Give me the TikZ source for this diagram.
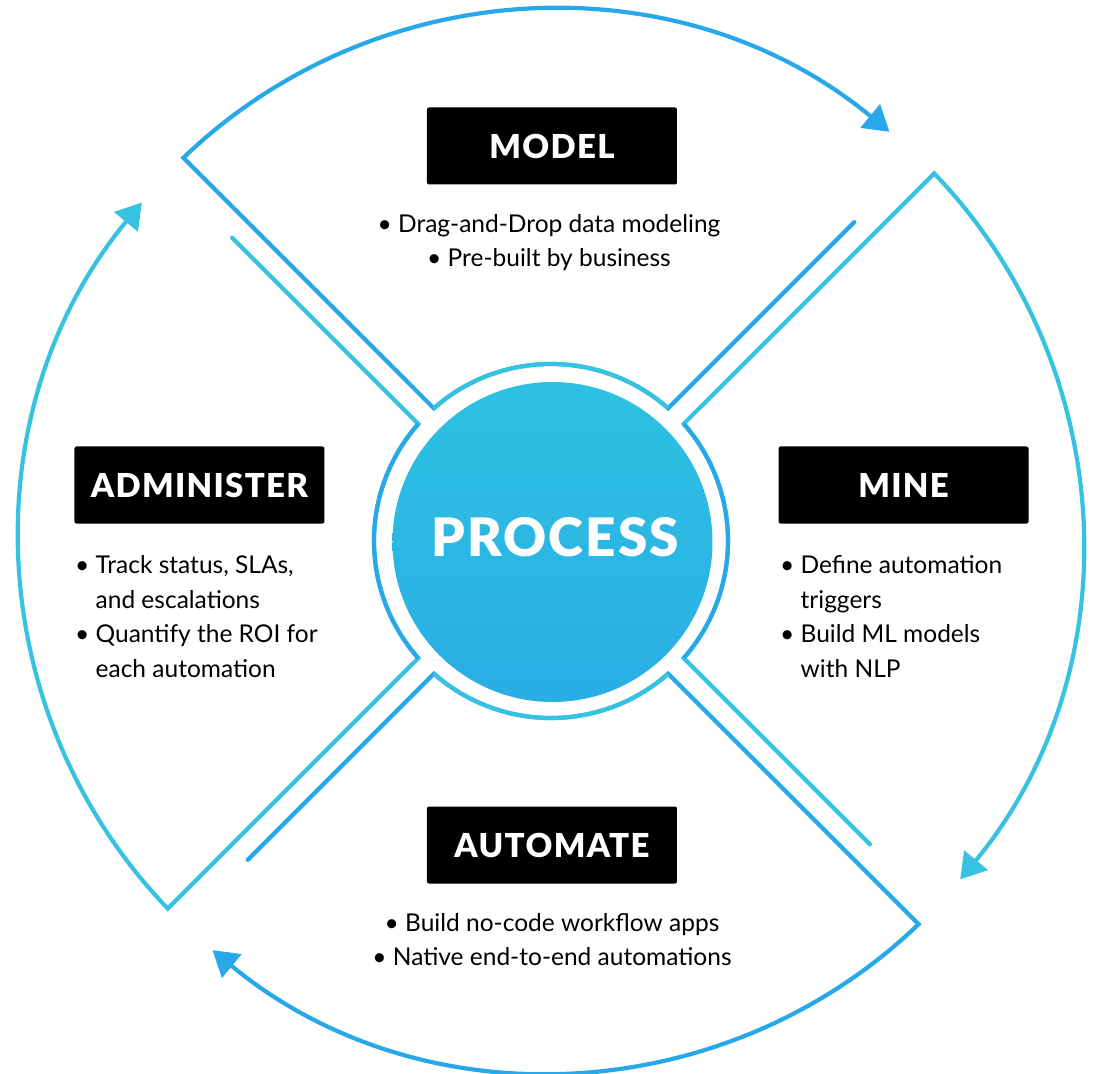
\documentclass[tikz,border=0pt]{standalone}
\usepackage{fontspec}
\setmainfont{Lato}
\newfontfamily\headfont{Lato Black}[LetterSpace=4]
\usetikzlibrary{arrows.meta}

\definecolor{procblue}{HTML}{28A8E8}
\definecolor{proccyan}{HTML}{37C2E2}
\definecolor{hubtop}{HTML}{2DC1E1}
\definecolor{hubbottom}{HTML}{2AAEE5}

\tikzset{
	ring/.style={line width=4.2pt, line join=miter},
	tagbox/.style={fill=black, rounded corners=2pt, minimum width=250pt, minimum height=77pt, text=white, font=\headfont\fontsize{33}{33}\selectfont},
	bullets/.style={font=\fontsize{24.5}{34.5}\selectfont, inner sep=0pt},
}

\begin{document}
\begin{tikzpicture}[x=1pt,y=1pt]
	\useasboundingbox (-551,-533) rectangle (542,541);
	
	% four arrow pieces, turned a quarter each
	\foreach \k/\main/\alt in {0/procblue/proccyan, 1/proccyan/procblue, 2/procblue/proccyan, 3/proccyan/procblue}{
		\begin{scope}[rotate=-90*\k]
			\coordinate (free\k) at (303.3,318.9);
			\coordinate (innerR\k) at (117.1,132.7);
			\coordinate (innerL\k) at (-117.1,132.7);
			\coordinate (corner\k) at (-367.6,383.2);
			\draw[ring,\main,line cap=round,-{Triangle[length=25pt,width=30pt]}] (free\k) -- (innerR\k)
				arc[start angle=48.56, end angle=131.44, radius=177] -- (corner\k)
				arc[start angle=133.81, end angle=50.4, radius=531];
			\draw[ring,\alt] (innerR\k) arc[start angle=48.56, end angle=131.44, radius=177];
		\end{scope}
	}
	
	\node (hub) [circle, minimum size=320pt, inner sep=0pt, top color=hubtop, bottom color=hubbottom] at (1.5,-1) {};
	\node (process) [text=white, font=\headfont\fontsize{53}{53}\selectfont] at (4,4) {PROCESS};
	
	\node (model) [tagbox] at (1,395) {MODEL};
	\node (mine) [tagbox] at (352.5,56) {MINE};
	\node (automate) [tagbox] at (1,-304) {AUTOMATE};
	\node (administer) [tagbox] at (-351.5,56) {ADMINISTER};
	
	\node (modeltext) [bullets, align=center] at (-2,298.5)
		{\textbullet\ Drag-and-Drop data modeling\\ \textbullet\ Pre-built by business};
	\node (minetext) [bullets, align=left, anchor=west] at (229,-75.5)
		{\textbullet\ Define automation\\ \phantom{\textbullet\ }triggers\\ \textbullet\ Build ML models\\ \phantom{\textbullet\ }with NLP};
	\node (automatetext) [bullets, align=center] at (1,-398.5)
		{\textbullet\ Build no-code workflow apps\\ \textbullet\ Native end-to-end automations};
	\node (administertext) [bullets, align=left, anchor=west] at (-476,-75.5)
		{\textbullet\ Track status, SLAs,\\ \phantom{\textbullet\ }and escalations\\ \textbullet\ Quantify the ROI for\\ \phantom{\textbullet\ }each automation};
\end{tikzpicture}
\end{document}
